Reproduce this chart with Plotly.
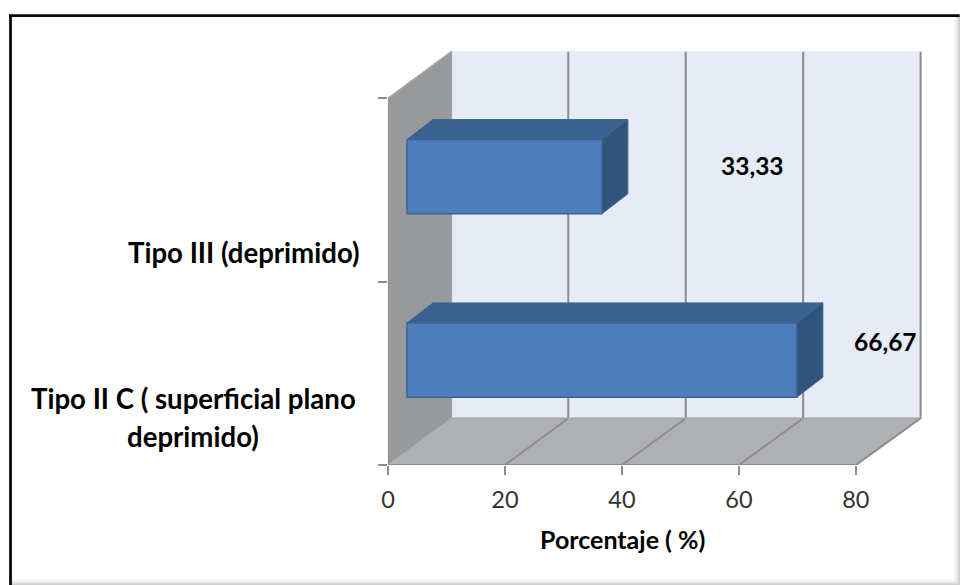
import plotly.graph_objects as go

# Chart data
categories = ["Tipo II C ( superficial plano\ndeprimido)", "Tipo III (deprimido)"]
values = [66.67, 33.33]
x_ticks = [0, 20, 40, 60, 80]
y_ticks = [0, 1, 2]
x_title = "Porcentaje ( %)"

# Canvas and the front face of the chart box, in pixels
W, H = 960, 585
L, R, T, B = 387.5, 856.0, 98.0, 465.0
X_MAX, Y_MAX = 80, 2

# Perspective depth of the chart box and of the bars, in axis units
PX_X = (R - L) / X_MAX
PX_Y = (B - T) / Y_MAX
WALL_DX, WALL_DY = 63.5 / PX_X, 46.7 / PX_Y
BACK_SCALE = 1.004
BAR_DX, BAR_DY = 26 / PX_X, 20 / PX_Y
BAR_X0 = 19 / PX_X
BAR_LOW, BAR_HIGH = 0.37, 0.775

# Axis ranges reach past the front face so the depth fits inside the plot area
X_TOP = X_MAX * BACK_SCALE + WALL_DX + 1
Y_TOP = Y_MAX + WALL_DY + 0.02
PLOT_R = L + X_TOP * PX_X
PLOT_T = B - Y_TOP * PX_Y

# Colours
WALL_BACK = "#E6EBF5"
WALL_LEFT = "#98999B"
FLOOR = "#AEB0B3"
EDGE = "#8C8C8C"
BAR_FRONT = "#4E7FBC"
BAR_TOP = "#3B618F"
BAR_SIDE = "#31547C"
BAR_EDGE = "#3A6496"
FONT = "Lato"


def back(t):
    return t * BACK_SCALE + WALL_DX


def poly(xs, ys, fill, line=None, width=1):
    return go.Scatter(
        x=xs + xs[:1], y=ys + ys[:1], mode="lines", fill="toself", fillcolor=fill,
        line=dict(color=line or fill, width=width),
        hoverinfo="skip", showlegend=False,
    )


def seg(xs, ys, color=EDGE, width=2):
    return go.Scatter(
        x=xs, y=ys, mode="lines", line=dict(color=color, width=width),
        cliponaxis=False, hoverinfo="skip", showlegend=False,
    )


def px_x(p):
    return (p - L) / (PLOT_R - L)


def px_y(p):
    return (B - p) / (B - PLOT_T)


fig = go.Figure()

# Back wall, left wall and floor of the box
fig.add_trace(poly([back(0), back(X_MAX), back(X_MAX), back(0)],
                   [WALL_DY, WALL_DY, Y_MAX + WALL_DY, Y_MAX + WALL_DY], WALL_BACK))
fig.add_trace(poly([0, back(0), back(0), 0],
                   [0, WALL_DY, Y_MAX + WALL_DY, Y_MAX], WALL_LEFT))
fig.add_trace(poly([0, X_MAX, back(X_MAX), back(0)],
                   [0, 0, WALL_DY, WALL_DY], FLOOR))

# Gridlines running across the floor and up the back wall
for t in x_ticks[1:]:
    fig.add_trace(seg([t, back(t) - 0.1, back(t) - 0.1],
                      [0, WALL_DY, Y_MAX + WALL_DY]))
fig.add_trace(seg([0, back(0), back(0)], [Y_MAX, Y_MAX + WALL_DY, WALL_DY], "#A3A3A5", 1.5))
fig.add_trace(seg([back(0), back(X_MAX)], [WALL_DY, WALL_DY], "#A3A5A8", 1.5))

# Axis lines along the front edges of the box
fig.add_trace(seg([0, 0], [0, Y_MAX]))
fig.add_trace(seg([0, X_MAX], [0, 0]))

# Bars: each one is a front face, a top face and a side face
for i, v in enumerate(values):
    x0, x1 = BAR_X0, BAR_X0 + v
    y0, y1 = i + BAR_LOW, i + BAR_HIGH
    fig.add_trace(poly([x0, x1, x1 + BAR_DX, x0 + BAR_DX],
                       [y1, y1, y1 + BAR_DY, y1 + BAR_DY], BAR_TOP, BAR_EDGE))
    fig.add_trace(poly([x1, x1 + BAR_DX, x1 + BAR_DX, x1],
                       [y0, y0 + BAR_DY, y1 + BAR_DY, y1], BAR_SIDE, BAR_EDGE))
    fig.add_trace(poly([x0, x1, x1, x0], [y0, y0, y1, y1], BAR_FRONT, BAR_EDGE, 1.5))

annotations = []


def text(s, x, y, size, color="#000000"):
    annotations.append(dict(
        text=f"<b>{s}</b>", xref="paper", yref="paper",
        x=px_x(x), y=px_y(y), xanchor="center", yanchor="middle", showarrow=False,
        font=dict(family=FONT, size=size, color=color),
    ))


# Category names sit left of the axis, one annotation per line
cat_pos = [(192.5, [398.5, 436.5]), (243.5, [252.5])]
for name, (cx, ys) in zip(categories, cat_pos):
    for line, y in zip(name.split("\n"), ys):
        text(line, cx, y, 27.6)

# Value labels
label_pos = [(886, 341), (752, 165)]
for v, (lx, ly) in zip(values, label_pos):
    text(f"{v:.2f}".replace(".", ","), lx, ly, 24.5)

text(x_title, 622, 539.5, 25)

# Frame round the chart with a soft shadow on the right and bottom
shapes = []
shade = ["#FAFAFA", "#F5F5F5", "#EEEEEE", "#E5E5E5", "#DADADA", "#CFCFCF"]
for k, g in enumerate(shade):
    shapes.append(dict(type="rect", xref="paper", yref="paper", layer="below",
                       x0=px_x(954 + k), x1=px_x(961), y0=px_y(586), y1=px_y(16),
                       fillcolor=g, line_width=0))
    shapes.append(dict(type="rect", xref="paper", yref="paper", layer="below",
                       x0=px_x(9), x1=px_x(961), y0=px_y(586), y1=px_y(579 + k),
                       fillcolor=g, line_width=0))
shapes.append(dict(type="line", xref="paper", yref="paper", x0=px_x(8), x1=px_x(960),
                   y0=px_y(15.3), y1=px_y(15.3), line=dict(color="#0A0A0A", width=2.8)))
shapes.append(dict(type="line", xref="paper", yref="paper", x0=px_x(9.5), x1=px_x(9.5),
                   y0=px_y(14), y1=px_y(585), line=dict(color="#0A0A0A", width=2.8)))

axis_common = dict(showgrid=False, zeroline=False, showline=False, ticks="outside",
                   tickcolor=EDGE, tickwidth=2, ticklen=9)

fig.update_layout(
    width=W, height=H,
    margin=dict(l=L, r=W - PLOT_R, t=PLOT_T, b=H - B, pad=0),
    paper_bgcolor="white", plot_bgcolor="rgba(0,0,0,0)",
    showlegend=False, annotations=annotations, shapes=shapes,
    xaxis=dict(range=[0, X_TOP], tickvals=x_ticks, ticklabelstandoff=5,
               tickfont=dict(family=FONT, size=23.5, color="#333333"), **axis_common),
    yaxis=dict(range=[0, Y_TOP], tickvals=y_ticks, showticklabels=False, **axis_common),
)

fig.write_html("out.html", config={"displayModeBar": False})
